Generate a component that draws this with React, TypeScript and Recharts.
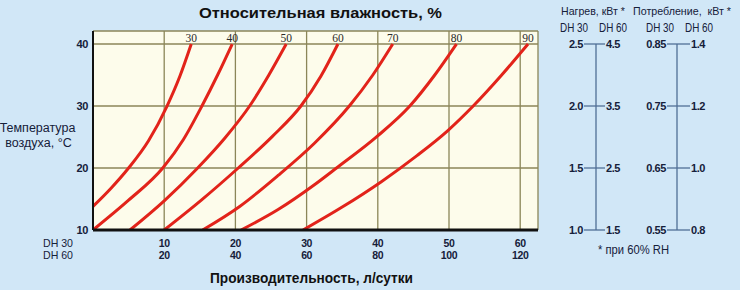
import React from 'react';
import { LineChart, Line, XAxis, YAxis, CartesianGrid } from 'recharts';

// Relative humidity levels (curve labels)
const humidityLevels = [30, 40, 50, 60, 70, 80, 90];

// Curves: capacity of DH 30 (l/day) vs air temperature (°C)
const rh30 = [
  { x: 0, t: 13.8 }, { x: 2.5, t: 16.7 }, { x: 5.0, t: 20 }, { x: 7.8, t: 24.4 },
  { x: 10.4, t: 30 }, { x: 12.2, t: 34.8 }, { x: 13.8, t: 40 },
];
const rh40 = [
  { x: 0, t: 10 }, { x: 5, t: 14.8 }, { x: 9.8, t: 20 }, { x: 12.7, t: 24.6 },
  { x: 15.3, t: 30 }, { x: 17.5, t: 35 }, { x: 19.55, t: 40 },
];
const rh50 = [
  { x: 5.2, t: 10 }, { x: 10, t: 14.7 }, { x: 14.7, t: 20 }, { x: 18.5, t: 24.8 },
  { x: 22.0, t: 30 }, { x: 24.7, t: 35 }, { x: 27.14, t: 40 },
];
const rh60 = [
  { x: 10, t: 10 }, { x: 15.3, t: 14.9 }, { x: 20.4, t: 20 }, { x: 25.2, t: 25.1 },
  { x: 29.2, t: 30 }, { x: 32.0, t: 34.8 }, { x: 34.4, t: 40 },
];
const rh70 = [
  { x: 15.4, t: 10 }, { x: 20.6, t: 13.8 }, { x: 26, t: 18.8 }, { x: 31.1, t: 24 },
  { x: 36.0, t: 30 }, { x: 39.3, t: 35 }, { x: 42.1, t: 40 },
];
const rh80 = [
  { x: 20.8, t: 10 }, { x: 26, t: 13.3 }, { x: 31.1, t: 17.3 }, { x: 34.2, t: 20 },
  { x: 39.9, t: 25.1 }, { x: 44.5, t: 30 }, { x: 48, t: 35 }, { x: 51.05, t: 40 },
];
const rh90 = [
  { x: 29.5, t: 10 }, { x: 35, t: 13.7 }, { x: 40.5, t: 17.8 }, { x: 45.5, t: 22 },
  { x: 49.8, t: 26 }, { x: 53.4, t: 30 }, { x: 57.4, t: 35 }, { x: 61.1, t: 40 },
];
const curves = [rh30, rh40, rh50, rh60, rh70, rh80, rh90];

// Axes
const tempTicks = [10, 20, 30, 40];
const capacityTicks = [0, 10, 20, 30, 40, 50, 60];
const capacityDH30 = ['', '10', '20', '30', '40', '50', '60'];
const capacityDH60 = ['', '20', '40', '60', '80', '100', '120'];
const modelNames = ['DH 30', 'DH 60'];

// Nomograms
const heatDH30 = [1.0, 1.5, 2.0, 2.5];
const heatDH60 = [1.5, 2.5, 3.5, 4.5];
const powerDH30 = [0.55, 0.65, 0.75, 0.85];
const powerDH60 = [0.8, 1.0, 1.2, 1.4];

// Texts
const title = 'Относительная влажность, %';
const xTitle = 'Производительность, л/сутки';
const yTitle = ['Температура', 'воздуха, °C'];
const heatTitle = 'Нагрев, кВт *';
const powerTitle = 'Потребление,  кВт *';
const footnote = '* при 60% RH';

const NARROW = "'Liberation Sans Narrow', 'Arial Narrow', 'Liberation Sans', sans-serif";
const SANS = "'Liberation Sans', Arial, sans-serif";
const SERIF = "'Liberation Serif', 'Times New Roman', serif";
const INK = '#15203a';
const NOMO = '#4f6f96';

const YTick = (props: any) => {
  const { x, y, payload } = props;
  return (
    <text x={x} y={y + 4} textAnchor="end" fontFamily={NARROW} fontWeight="bold" fontSize={11} fill={INK}
      letterSpacing={-0.4}>
      {payload.value}
    </text>
  );
};

const XTick = (props: any) => {
  const { x, y, payload } = props;
  const i = capacityTicks.indexOf(payload.value);
  if (i === 0) {
    return (
      <g fontFamily={NARROW} fontSize={11} fill={INK} textAnchor="start">
        <text x={x - 50} y={y + 17} textLength={30} lengthAdjust="spacingAndGlyphs">{modelNames[0]}</text>
        <text x={x - 50} y={y + 29} textLength={30} lengthAdjust="spacingAndGlyphs">{modelNames[1]}</text>
      </g>
    );
  }
  return (
    <g fontFamily={NARROW} fontWeight="bold" fontSize={10.5} fill={INK} textAnchor="middle" letterSpacing={-0.4}>
      <text x={x} y={y + 17}>{capacityDH30[i]}</text>
      <text x={x} y={y + 28.5}>{capacityDH60[i]}</text>
    </g>
  );
};

const curveLabel = (n: number, label: number) => (props: any) => {
  const { x, y, index } = props;
  if (index !== n - 1) return null;
  return (
    <text key={'lbl' + label} x={x} y={y - 2.5} textAnchor="middle" fontFamily={SERIF} fontSize={11.5} fill="#2a2a2a">
      {label}
    </text>
  );
};

const pickIndex = (arr: number[], props: any) => {
  const v = Number(props?.payload?.value);
  const f = arr.findIndex((a) => Math.abs(a - v) < 1e-6);
  return f >= 0 ? f : props.index;
};

const HeatTick = (props: any) => {
  const { x, y } = props;
  const i = pickIndex(heatDH30, props);
  if (i == null || i < 0 || i >= heatDH30.length) return <g />;
  return (
    <g fontFamily={NARROW} fontWeight="bold" fontSize={11} fill={INK} letterSpacing={-0.4}>
      <line x1={x - 12} x2={x + 9} y1={y} y2={y} stroke={NOMO} strokeWidth={1.3} />
      <text x={x - 13} y={y + 4} textAnchor="end">{heatDH30[i].toFixed(1)}</text>
      <text x={x + 10} y={y + 4} textAnchor="start">{heatDH60[i].toFixed(1)}</text>
    </g>
  );
};

const PowerTick = (props: any) => {
  const { x, y } = props;
  const i = pickIndex(powerDH30, props);
  if (i == null || i < 0 || i >= powerDH30.length) return <g />;
  return (
    <g fontFamily={NARROW} fontWeight="bold" fontSize={11} fill={INK} letterSpacing={-0.4}>
      <line x1={x - 10} x2={x + 13} y1={y} y2={y} stroke={NOMO} strokeWidth={1.3} />
      <text x={x - 11} y={y + 4} textAnchor="end">{powerDH30[i].toFixed(2)}</text>
      <text x={x + 14} y={y + 4} textAnchor="start">{powerDH60[i].toFixed(1)}</text>
    </g>
  );
};

const nomoData = heatDH30.map((h, i) => ({ k: i, h, p: powerDH30[i] }));

export default function App() {
  return (
    <div style={{ position: 'absolute', left: 0, top: 0, width: 740, height: 290, background: '#d1e7f7', overflow: 'hidden' }}>
      <div style={{ position: 'absolute', left: 0, top: 0 }}>
        <LineChart width={540} height={290} margin={{ top: 31, right: 2, bottom: 30, left: 63 }}>
          <CartesianGrid stroke="#8b8658" strokeWidth={1.3} fill="#fdfceb" fillOpacity={1} />
          <XAxis
            type="number"
            dataKey="x"
            domain={[0, 62.5]}
            ticks={capacityTicks}
            allowDataOverflow
            height={30}
            tickLine={false}
            tickSize={0}
            tickMargin={0}
            axisLine={{ stroke: '#111', strokeWidth: 3 }}
            tick={<XTick />}
            interval={0}
          />
          <YAxis
            type="number"
            domain={[10, 42.1]}
            ticks={tempTicks}
            allowDataOverflow
            width={30}
            tickLine={false}
            tickSize={0}
            tickMargin={5}
            axisLine={{ stroke: '#111', strokeWidth: 2 }}
            tick={<YTick />}
            interval={0}
          />
          {curves.map((c, k) => (
            <Line
              key={humidityLevels[k]}
              data={c}
              dataKey="t"
              type="monotone"
              stroke="#e2231a"
              strokeWidth={3}
              dot={false}
              activeDot={false}
              isAnimationActive={false}
              label={curveLabel(c.length, humidityLevels[k])}
            />
          ))}
        </LineChart>
      </div>
      <div style={{ position: 'absolute', left: 540, top: 0 }}>
        <LineChart width={200} height={290} data={nomoData} margin={{ top: 44, right: 13, bottom: 60, left: 16 }}>
          <XAxis dataKey="k" hide />
          <YAxis
            yAxisId="heat"
            orientation="left"
            type="number"
            domain={[1.0, 2.5]}
            ticks={heatDH30}
            width={40}
            tickLine={false}
            tickSize={0}
            tickMargin={0}
            axisLine={{ stroke: NOMO, strokeWidth: 1.3 }}
            tick={<HeatTick />}
            interval={0}
          />
          <YAxis
            yAxisId="power"
            orientation="right"
            type="number"
            domain={[0.55, 0.85]}
            ticks={powerDH30}
            width={50}
            tickLine={false}
            tickSize={0}
            tickMargin={0}
            axisLine={{ stroke: NOMO, strokeWidth: 1.3 }}
            tick={<PowerTick />}
            interval={0}
          />
          <Line yAxisId="heat" dataKey="h" stroke="none" dot={false} activeDot={false} isAnimationActive={false} />
          <Line yAxisId="power" dataKey="p" stroke="none" dot={false} activeDot={false} isAnimationActive={false} />
        </LineChart>
      </div>
      <svg style={{ position: 'absolute', left: 0, top: 0, pointerEvents: 'none' }} width={740} height={290}>
        <text x={199} y={18.3} fontFamily={SANS} fontWeight="bold" fontSize={15.5} fill="#111"
          textLength={243} lengthAdjust="spacingAndGlyphs">{title}</text>
        <text x={210} y={283} fontFamily={NARROW} fontWeight="bold" fontSize={15.5} fill="#111"
          textLength={203} lengthAdjust="spacingAndGlyphs">{xTitle}</text>
        <text x={37.5} y={131.5} textAnchor="middle" fontFamily={SANS} fontSize={12.5} fill={INK}>{yTitle[0]}</text>
        <text x={38.5} y={146.5} textAnchor="middle" fontFamily={SANS} fontSize={12.5} fill={INK}>{yTitle[1]}</text>
        <text x={561} y={15} fontFamily={NARROW} fontSize={11} fill={INK}
          textLength={64} lengthAdjust="spacingAndGlyphs">{heatTitle}</text>
        <text x={633} y={15} fontFamily={NARROW} fontSize={11} fill={INK} style={{ whiteSpace: 'pre' }}
          textLength={98} lengthAdjust="spacingAndGlyphs">{powerTitle}</text>
        <text x={560} y={32} fontFamily={NARROW} fontSize={12} fill={INK} textLength={28} lengthAdjust="spacingAndGlyphs">{modelNames[0]}</text>
        <text x={599} y={32} fontFamily={NARROW} fontSize={12} fill={INK} textLength={28} lengthAdjust="spacingAndGlyphs">{modelNames[1]}</text>
        <text x={646} y={32} fontFamily={NARROW} fontSize={12} fill={INK} textLength={28} lengthAdjust="spacingAndGlyphs">{modelNames[0]}</text>
        <text x={685} y={32} fontFamily={NARROW} fontSize={12} fill={INK} textLength={28} lengthAdjust="spacingAndGlyphs">{modelNames[1]}</text>
        <text x={598} y={254} fontFamily={NARROW} fontSize={12.5} fill={INK} textLength={71} lengthAdjust="spacingAndGlyphs">{footnote}</text>
      </svg>
    </div>
  );
}
